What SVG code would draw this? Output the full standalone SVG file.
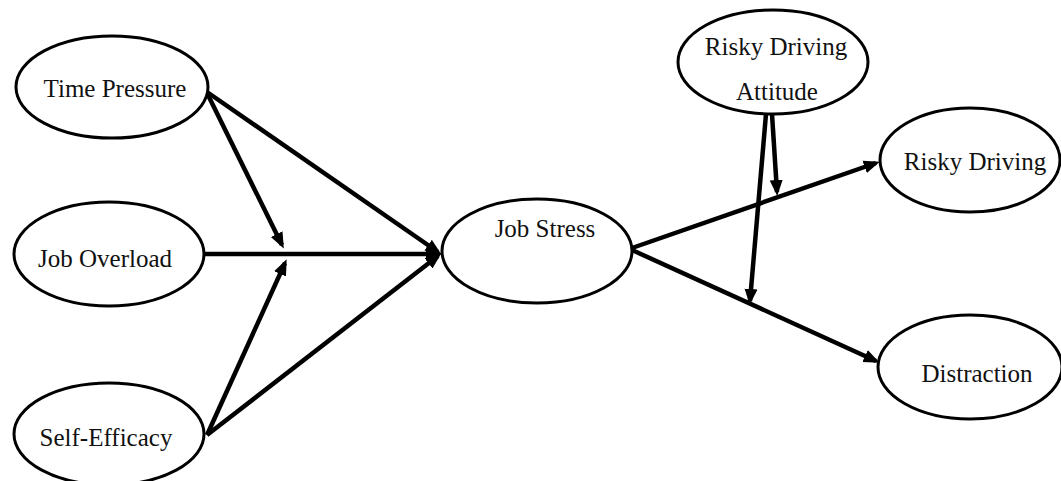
<svg xmlns="http://www.w3.org/2000/svg" width="1061" height="481" viewBox="0 0 1061 481">
  <style>
    .node ellipse { fill: #ffffff; stroke: #000000; stroke-width: 3; }
    .node text { font-family: "Liberation Serif", "Times New Roman", serif; font-size: 25px; fill: #111111; text-anchor: middle; }
    .edge { stroke: #000000; stroke-width: 4.5; fill: none; marker-end: url(#arrow); }
  </style>
  <defs>
    <marker id="arrow" markerUnits="userSpaceOnUse" markerWidth="16" markerHeight="14" refX="12" refY="7" orient="auto">
      <path d="M0,0.5 L16,7 L0,13.5 z" fill="#000000"/>
    </marker>
  </defs>
  <rect width="1061" height="481" fill="#ffffff"/>
  <g id="connectors">
    <line class="edge" x1="207" y1="92" x2="438" y2="252"/>
    <line class="edge" x1="204" y1="254" x2="438" y2="254"/>
    <line class="edge" x1="207" y1="435" x2="438" y2="256"/>
    <line class="edge" x1="207" y1="93" x2="282" y2="245"/>
    <line class="edge" x1="207" y1="435" x2="285" y2="263"/>
    <line class="edge" x1="632" y1="248" x2="876" y2="163"/>
    <line class="edge" x1="632" y1="250" x2="876" y2="361"/>
    <line class="edge" x1="772" y1="114" x2="777" y2="192"/>
    <line class="edge" x1="766" y1="114" x2="750" y2="301"/>
  </g>
  <g id="time-pressure" class="node">
    <ellipse cx="112" cy="87" rx="96" ry="51"/>
    <text x="115" y="97">Time Pressure</text>
  </g>
  <g id="job-overload" class="node">
    <ellipse cx="109" cy="254" rx="95" ry="52"/>
    <text x="105" y="267">Job Overload</text>
  </g>
  <g id="self-efficacy" class="node">
    <ellipse cx="109" cy="434" rx="95" ry="51"/>
    <text x="106" y="446">Self-Efficacy</text>
  </g>
  <g id="job-stress" class="node">
    <ellipse cx="537" cy="251" rx="95" ry="52"/>
    <text x="545" y="237">Job Stress</text>
  </g>
  <g id="risky-driving-attitude" class="node">
    <ellipse cx="773" cy="62" rx="95" ry="52"/>
    <text x="776" y="55">Risky Driving</text>
    <text x="777" y="100">Attitude</text>
  </g>
  <g id="risky-driving" class="node">
    <ellipse cx="970" cy="160" rx="90" ry="52"/>
    <text x="975" y="170">Risky Driving</text>
  </g>
  <g id="distraction" class="node">
    <ellipse cx="970" cy="367" rx="92" ry="52"/>
    <text x="977" y="382">Distraction</text>
  </g>
</svg>
